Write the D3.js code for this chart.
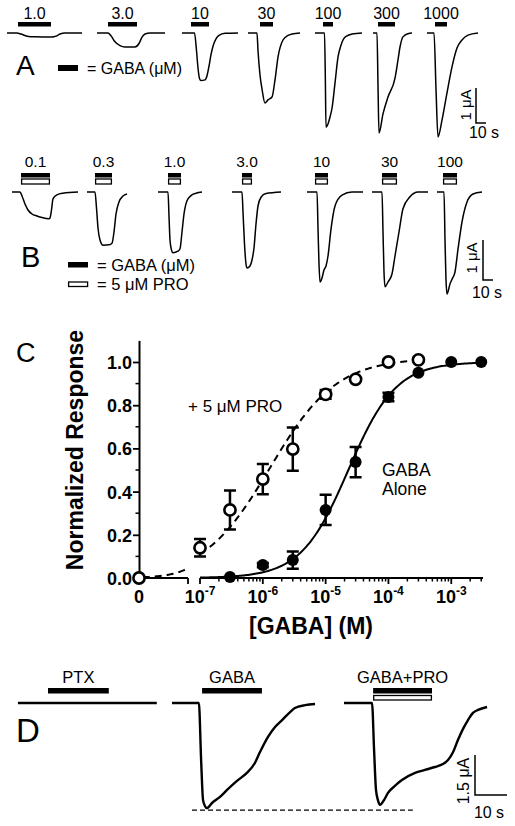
<!DOCTYPE html>
<html><head><meta charset="utf-8">
<script src="https://cdn.jsdelivr.net/npm/d3@7"></script>
<style>body{margin:0;background:#fff}</style>
</head><body>
<svg id="fig" width="515" height="826" xmlns="http://www.w3.org/2000/svg"></svg>
<script>
// ================= DATA =================
// Panel A: GABA alone, current traces (time s from trace start, current µA)
const concA = ["1.0","3.0","10","30","100","300","1000"];
const gabaBarA = [[11,44],[11,40],[9,27],[12,25],[8,18],[5,22],[8,20]];
const tA1 = [[0,0],[10,0],[14,-0.03],[20,-0.09],[28,-0.11],[45,-0.115],[49,-0.09],[53,-0.03],[58,0],[75,0]];
const tA2 = [[0,0],[11,0],[14,-0.08],[18,-0.25],[23,-0.36],[28,-0.4],[38,-0.4],[42,-0.3],[45,-0.12],[48,-0.03],[53,0],[68,0]];
const tA3 = [[0,0],[12.5,0],[14.5,-0.5],[16,-1.0],[17.5,-1.3],[19,-1.36],[23,-1.34],[25,-1.22],[27,-0.95],[29,-0.62],[31,-0.38],[34,-0.17],[37,-0.07],[43,-0.01],[56,0]];
const tA4 = [[0,0],[9,0],[10,-0.5],[12,-1.2],[14,-1.6],[17,-2.0],[20,-1.91],[24,-1.83],[27,-1.34],[30,-0.69],[35,-0.2],[40,-0.07],[44,-0.03],[52,0]];
const tA5 = [[0,0],[9.5,0],[10.3,-1.2],[11,-2.69],[13,-2.6],[15,-2.4],[17,-2.15],[20,-1.43],[23,-0.69],[26,-0.35],[28,-0.2],[32,-0.08],[37,-0.03],[47,0]];
const tA6 = [[0,0],[4,0],[5,-1.5],[6,-2.86],[10,-2.31],[15,-1.83],[22,-1.29],[25,-0.77],[27,-0.4],[30,-0.11],[35,-0.02],[39,0]];
const tA7 = [[0,0],[7,0],[9,-1.6],[11,-2.97],[15,-2.49],[20,-1.71],[25,-0.97],[30,-0.43],[35,-0.2],[41,-0.06],[51,0]];
const tracesA = [tA1,tA2,tA3,tA4,tA5,tA6,tA7];

// Panel B: GABA + 5 µM PRO
const concB = ["0.1","0.3","1.0","3.0","10","30","100"];
const gabaBarB = [[9,38],[8,25],[10,23],[10,20],[8,21],[10,25],[6,20]];
const tB1 = [[0,0],[8,0],[10,-0.1],[13,-0.3],[16,-0.45],[20,-0.55],[25,-0.6],[30,-0.64],[37,-0.67],[38,-0.65],[39.5,-0.45],[41,-0.17],[45,-0.07],[51,-0.03],[66,0]];
const tB2 = [[0,0],[8,0],[9.5,-0.4],[11,-0.9],[13,-1.2],[16,-1.33],[22,-1.32],[25,-1.28],[27,-1.0],[29,-0.55],[32,-0.25],[36,-0.1],[40,-0.05]];
const tB3 = [[0,0],[10,0],[11,-0.6],[12,-1.2],[13.5,-1.45],[15,-1.52],[20,-1.48],[22,-1.42],[24,-1.0],[26,-0.55],[29,-0.22],[33,-0.09],[38,-0.03],[44,0]];
const tB4 = [[0,0],[10,0],[11,-0.5],[12.5,-1.3],[14,-1.8],[15,-1.9],[18,-1.85],[20,-1.7],[22,-1.4],[24,-0.8],[26,-0.35],[29,-0.13],[34,-0.04],[49,0]];
const tB5 = [[0,0],[10,0],[11,-0.9],[12,-1.8],[13,-2.25],[15,-2.15],[17,-1.95],[19,-1.85],[21,-1.6],[24,-0.93],[28,-0.35],[35,-0.08],[45,0],[56,0]];
const tB6 = [[0,0],[10,0],[11,-1.0],[12,-2.0],[13,-2.37],[16,-2.25],[20,-2.05],[23,-1.6],[27,-1.0],[31,-0.42],[38,-0.12],[46,0],[56,0]];
const tB7 = [[0,0],[7,0],[8,-1.2],[9,-2.2],[10,-2.55],[13,-2.3],[15,-2.18],[18,-2.0],[21,-1.43],[25,-0.75],[30,-0.25],[36,-0.05],[45,0]];
const tracesB = [tB1,tB2,tB3,tB4,tB5,tB6,tB7];

// Panel C: concentration-response
const gabaConc = [3e-7,1e-6,3e-6,1e-5,3e-5,1e-4,3e-4,1e-3,3e-3];
const gabaMean = [0.005,0.06,0.083,0.315,0.537,0.838,0.95,1.0,1.0];
const gabaErr  = [0,0.01,0.04,0.07,0.07,0.02,0,0,0];
const proConc  = [0,1e-7,3e-7,1e-6,3e-6,1e-5,3e-5,1e-4,3e-4];
const proMean  = [0.0,0.14,0.315,0.458,0.597,0.85,0.92,1.0,1.01];
const proErr   = [0,0.04,0.09,0.07,0.1,0.02,0,0.01,0.01];
const fitGaba = {ec50:2.3e-5, n:1.15, top:1.0};
const fitPro  = {ec50:1.3e-6, n:0.82, top:1.02};
const yTicks = [0,0.2,0.4,0.6,0.8,1.0];
const yMinor = [0.1,0.3,0.5,0.7,0.9];
const xDecades = [1e-7,1e-6,1e-5,1e-4,1e-3];

// Panel D
const labelsD = ["PTX","GABA","GABA+PRO"];
const barD = [[9.4,28.4],[9.4,28.1],[9.1,27.5]];
const proD = [false,false,true];
const tD1 = [[0,0],[43.4,0]];
const tD2 = [[0,0],[8.4,0],[9.1,-2.14],[9.7,-3.64],[10.3,-3.86],[10.9,-3.94],[12.5,-3.75],[15,-3.52],[17.2,-3.26],[20.3,-2.92],[23.4,-2.62],[25.9,-2.25],[27.5,-1.84],[30,-1.27],[32.2,-0.9],[34.4,-0.64],[36.9,-0.34],[38.4,-0.19],[41.6,-0.08],[44.7,-0.04]];
const tD3 = [[0,0],[8.75,0],[9.4,-1.76],[10,-3.26],[10.6,-3.64],[11.25,-3.82],[12.5,-3.64],[13.75,-3.37],[15.9,-3.11],[18.1,-2.89],[22.2,-2.62],[25.3,-2.51],[28.4,-2.4],[30.9,-2.29],[32.5,-2.14],[34.1,-1.84],[35.6,-1.39],[37.2,-0.97],[38.75,-0.64],[40.3,-0.37],[41.9,-0.26],[44.7,-0.15]];
const tracesD = [tD1,tD2,tD3];

// ================= LAYOUT =================
const FONT = "'Liberation Sans', Arial, Helvetica, sans-serif";
const layA = {pxPerS:1, baseY:33, pxPerUA:35, starts:[7,97,182,248,315,373,427], barY:22, barH:4.5, labelY:19, stroke:1.5,
  scale:{x:476, y:123, uA:1, s:10, uaLabel:"1 \u03bcA"}};
const layB = {pxPerS:1, baseY:192, pxPerUA:40, starts:[12,87,158,232,307,372,437], barY:173, barH:4.5, whiteY:179, whiteH:5, labelY:167, stroke:1.5,
  scale:{x:483, y:280, uA:1, s:10, uaLabel:"1 \u03bcA"}};
const layD = {pxPerS:3.2, baseY:703, pxPerUA:26.67, starts:[5.6,53.75,107.5], barY:688, barH:5.5, whiteY:695.5, whiteH:4.5, labelY:683, stroke:2.4,
  scale:{x:475, y:795, uA:1.5, s:10, uaLabel:"1.5 \u03bcA"}, dash:[60,129]};

const svg = d3.select("#fig").style("font-family", FONT);

function tracePanel(traces, bars, labels, pro, lay, labelSize) {
  const g = svg.append("g");
  const sx = d3.scaleLinear().domain([0, 515/lay.pxPerS]).range([0, 515]);
  const sy = d3.scaleLinear().domain([0, -1]).range([lay.baseY, lay.baseY + lay.pxPerUA]);
  const line = d3.line().x(d => sx(d[0])).y(d => sy(d[1])).curve(d3.curveMonotoneX);
  traces.forEach((tr, i) => {
    const s0 = lay.starts[i];
    g.append("path").attr("d", line(tr.map(p => [p[0]+s0, p[1]])))
      .attr("fill","none").attr("stroke","#000").attr("stroke-width", lay.stroke).attr("stroke-linejoin","round");
    const b = bars[i];
    const x0 = sx(s0+b[0]), x1 = sx(s0+b[1]);
    g.append("rect").attr("x",x0).attr("y",lay.barY).attr("width",x1-x0).attr("height",lay.barH).attr("fill","#000");
    if (pro && pro[i]) {
      g.append("rect").attr("x",x0+0.6).attr("y",lay.whiteY).attr("width",x1-x0-1.2).attr("height",lay.whiteH)
        .attr("fill","#fff").attr("stroke","#000").attr("stroke-width",1.3);
    }
    g.append("text").attr("x",(x0+x1)/2).attr("y",lay.labelY).attr("text-anchor","middle")
      .attr("font-size",labelSize).text(labels[i]);
  });
  // scale bar
  const sc = lay.scale;
  const h = sy(-sc.uA) - sy(0);
  const w = sx(sc.s) - sx(0);
  g.append("path").attr("d", `M${sc.x},${sc.y-h}V${sc.y}H${sc.x+w}`)
    .attr("fill","none").attr("stroke","#000").attr("stroke-width",1.5);
  return {g, sx, sy};
}

// ---------- Panel A ----------
const pA = tracePanel(tracesA, gabaBarA, concA, null, layA, 16);
pA.g.append("text").attr("x",471).attr("y",105).attr("transform","rotate(-90 471 105)").attr("text-anchor","middle").attr("font-size",15).text(layA.scale.uaLabel);
pA.g.append("text").attr("x",484).attr("y",138).attr("text-anchor","middle").attr("font-size",16).text("10 s");
svg.append("text").attr("x",16).attr("y",75).attr("font-size",28).text("A");
svg.append("rect").attr("x",58).attr("y",65).attr("width",20).attr("height",6).attr("fill","#000");
svg.append("text").attr("x",87).attr("y",74).attr("font-size",16).text("= GABA (\u03bcM)");

// ---------- Panel B ----------
const pB = tracePanel(tracesB, gabaBarB, concB, concB.map(()=>true), layB, 15.5);
pB.g.append("text").attr("x",477).attr("y",258).attr("transform","rotate(-90 477 258)").attr("text-anchor","middle").attr("font-size",15).text(layB.scale.uaLabel);
pB.g.append("text").attr("x",487).attr("y",298).attr("text-anchor","middle").attr("font-size",16).text("10 s");
svg.append("text").attr("x",21).attr("y",267).attr("font-size",29).text("B");
svg.append("rect").attr("x",68).attr("y",262).attr("width",20).attr("height",5.5).attr("fill","#000");
svg.append("text").attr("x",97).attr("y",271).attr("font-size",16.5).text("= GABA (\u03bcM)");
svg.append("rect").attr("x",68.6).attr("y",282).attr("width",19).attr("height",4.5).attr("fill","#fff").attr("stroke","#000").attr("stroke-width",1.3);
svg.append("text").attr("x",97).attr("y",289.5).attr("font-size",16.5).text("= 5 \u03bcM PRO");

// ---------- Panel C ----------
const gC = svg.append("g");
const yC = d3.scaleLinear().domain([0,1.1]).range([578,340.4]);
const xLog = d3.scaleLog().domain([1e-7,3.2e-3]).range([200,483]);
const xZero = d3.scaleLog().domain([1e-9,2.5e-8]).range([139,185]);
const zeroX = 139, zeroEnd = 188;
const xPos = c => c === 0 ? zeroX : xLog(c);
const hill = (f, c) => f.top / (1 + Math.pow(f.ec50 / c, f.n));

// y axis
const yAx = gC.append("g").attr("transform",`translate(${zeroX},0)`)
  .call(d3.axisLeft(yC).tickValues(yTicks).tickFormat(d3.format(".1f")).tickSizeInner(6).tickSizeOuter(0).tickPadding(1));
yAx.select(".domain").attr("stroke-width",2);
yAx.selectAll(".tick line").attr("stroke-width",1.8);
yAx.selectAll(".tick text").attr("font-family",FONT).attr("font-weight","bold").attr("font-size",18).attr("dy","0.36em");
gC.selectAll(".yminor").data(yMinor).join("line").attr("x1",zeroX-3.5).attr("x2",zeroX)
  .attr("y1",d=>yC(d)).attr("y2",d=>yC(d)).attr("stroke","#000").attr("stroke-width",1.5);

// x axis: zero segment
const axY = yC(0);
gC.append("line").attr("x1",zeroX).attr("x2",zeroEnd).attr("y1",axY).attr("y2",axY).attr("stroke","#000").attr("stroke-width",2);
[zeroX, zeroEnd].forEach(x => gC.append("line").attr("x1",x).attr("x2",x).attr("y1",axY).attr("y2",axY+6).attr("stroke","#000").attr("stroke-width",1.8));
gC.append("text").attr("x",zeroX).attr("y",603).attr("text-anchor","middle").attr("font-weight","bold").attr("font-size",18).text("0");
// x axis: log segment
gC.append("line").attr("x1",xLog.range()[0]).attr("x2",xLog.range()[1]).attr("y1",axY).attr("y2",axY).attr("stroke","#000").attr("stroke-width",2);
const minor = [];
xDecades.forEach(d => { for (let k=2;k<=9;k++){ const v=d*k; if (v<=xLog.domain()[1]*1.001) minor.push(v);} });
gC.selectAll(".xminor").data(minor).join("line").attr("x1",d=>xLog(d)).attr("x2",d=>xLog(d))
  .attr("y1",axY).attr("y2",axY+3.5).attr("stroke","#000").attr("stroke-width",1.5);
gC.selectAll(".xmajor").data(xDecades).join("line").attr("x1",d=>xLog(d)).attr("x2",d=>xLog(d))
  .attr("y1",axY).attr("y2",axY+6).attr("stroke","#000").attr("stroke-width",1.8);
xDecades.forEach(d => {
  const t = gC.append("text").attr("x",xLog(d)).attr("y",603).attr("text-anchor","middle").attr("font-weight","bold").attr("font-size",18);
  t.append("tspan").text("10");
  t.append("tspan").attr("dy",-8).attr("font-size",12).text("-" + Math.round(-Math.log10(d)));
});
gC.append("text").attr("x",311).attr("y",634).attr("text-anchor","middle").attr("font-weight","bold").attr("font-size",23).text("[GABA] (M)");
gC.append("text").attr("transform","translate(83,450) rotate(-90)").attr("text-anchor","middle").attr("font-weight","bold").attr("font-size",23).text("Normalized Response");
svg.append("text").attr("x",16).attr("y",362).attr("font-size",27).text("C");

// fit curves
const lineC = d3.line().x(d=>d[0]).y(d=>d[1]).curve(d3.curveLinear);
const samp = (lo, hi, n) => d3.range(n+1).map(i => Math.pow(10, Math.log10(lo) + (Math.log10(hi)-Math.log10(lo))*i/n));
gC.append("path").attr("d", lineC(samp(1e-7,3.2e-3,200).map(c=>[xLog(c), yC(hill(fitGaba,c))])))
  .attr("fill","none").attr("stroke","#000").attr("stroke-width",2);
gC.append("path").attr("d", lineC(samp(1e-7,3e-4,200).map(c=>[xLog(c), yC(hill(fitPro,c))])))
  .attr("fill","none").attr("stroke","#000").attr("stroke-width",2).attr("stroke-dasharray","7,5");
gC.append("path").attr("d", lineC(samp(1.3e-9,2.5e-8,60).map(c=>[xZero(c), yC(hill(fitPro,c))])))
  .attr("fill","none").attr("stroke","#000").attr("stroke-width",2).attr("stroke-dasharray","7,5");

// error bars
function errBars(conc, mean, err) {
  conc.forEach((c,i) => {
    if (err[i] <= 0) return;
    const x = xPos(c), y1 = yC(mean[i]-err[i]), y2 = yC(mean[i]+err[i]);
    gC.append("path").attr("d",`M${x},${y1}V${y2}M${x-6},${y1}H${x+6}M${x-6},${y2}H${x+6}`)
      .attr("fill","none").attr("stroke","#000").attr("stroke-width",2.5);
  });
}
errBars(gabaConc, gabaMean, gabaErr);
errBars(proConc, proMean, proErr);
gC.selectAll(".gpt").data(gabaConc).join("circle").attr("cx",d=>xPos(d)).attr("cy",(d,i)=>yC(gabaMean[i])).attr("r",6).attr("fill","#000");
gC.selectAll(".ppt").data(proConc).join("circle").attr("cx",d=>xPos(d)).attr("cy",(d,i)=>yC(proMean[i])).attr("r",5.6)
  .attr("fill","#fff").attr("stroke","#000").attr("stroke-width",2.6);
gC.append("text").attr("x",188).attr("y",412).attr("font-size",17).text("+ 5 \u03bcM PRO");
gC.append("text").attr("x",382).attr("y",476).attr("font-size",17.5).text("GABA");
gC.append("text").attr("x",382).attr("y",495).attr("font-size",17.5).text("Alone");

// ---------- Panel D ----------
const pD = tracePanel(tracesD, barD, labelsD, proD, layD, 16.5);
const peakD = d3.min(tD2, d=>d[1]);
pD.g.append("line").attr("x1",pD.sx(layD.dash[0])).attr("x2",pD.sx(layD.dash[1]))
  .attr("y1",pD.sy(peakD)+2).attr("y2",pD.sy(peakD)+2).attr("stroke","#000").attr("stroke-width",1.3).attr("stroke-dasharray","5,3");
pD.g.append("text").attr("x",469).attr("y",781).attr("transform","rotate(-90 469 781)").attr("text-anchor","middle").attr("font-size",16).text(layD.scale.uaLabel);
pD.g.append("text").attr("x",489).attr("y",818).attr("text-anchor","middle").attr("font-size",16).text("10 s");
svg.append("text").attr("x",16).attr("y",742).attr("font-size",33).text("D");
</script>
</body></html>
